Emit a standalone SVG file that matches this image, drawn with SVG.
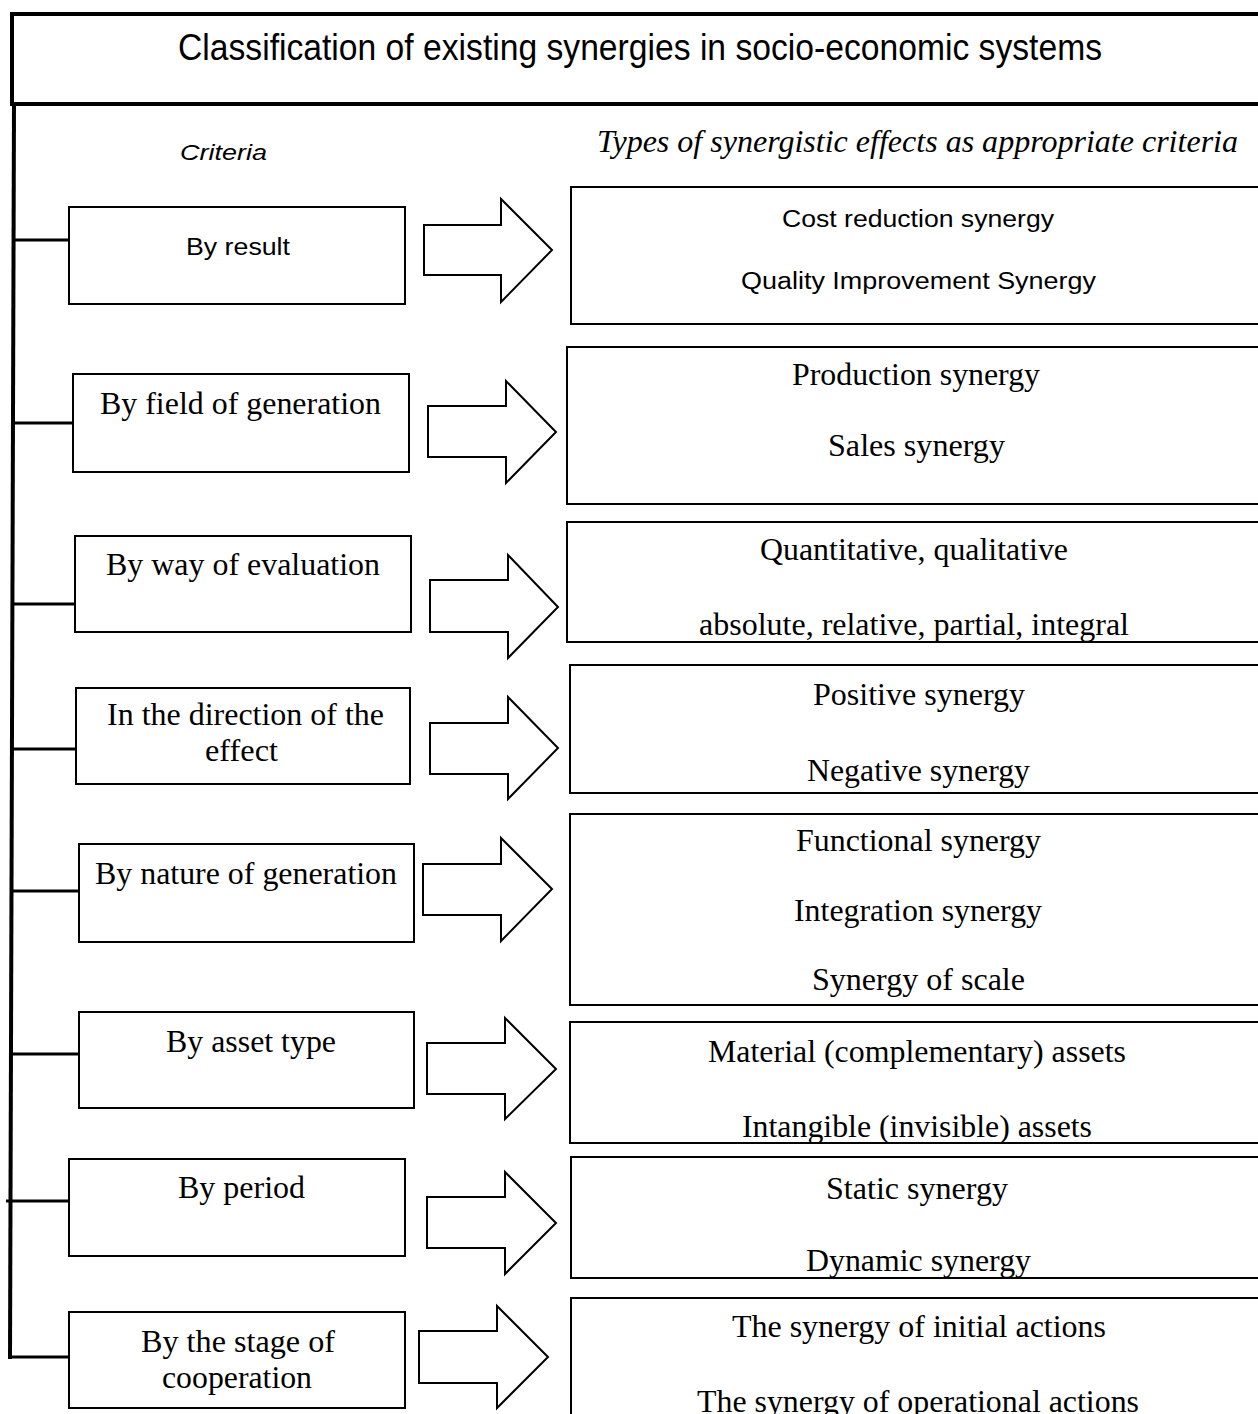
<svg xmlns="http://www.w3.org/2000/svg" width="1258" height="1414" viewBox="0 0 1258 1414">
<style>
.bg{fill:#fff}
.box{fill:#fff;stroke:#000;stroke-width:2}
.arrow{fill:#fff;stroke:#000;stroke-width:2;stroke-linejoin:miter}
.sans{font-family:"Liberation Sans",Arial,sans-serif;fill:#000}
.serif{font-family:"Liberation Serif","Times New Roman",serif;fill:#000;font-size:31px}
.mid{text-anchor:middle}
.spine{stroke:#000;stroke-width:4;fill:none}
.tick{stroke:#000;stroke-width:3;fill:none}
</style>
<rect class="bg" x="0" y="0" width="1258" height="1414"/>

<g id="title">
  <rect x="12" y="14" width="1260" height="90" fill="#fff" stroke="#000" stroke-width="4"/>
  <text class="sans mid" x="640" y="60" font-size="36" textLength="924" lengthAdjust="spacingAndGlyphs">Classification of existing synergies in socio-economic systems</text>
</g>

<g id="headers">
  <text class="sans mid" x="223.5" y="160" font-size="22" font-style="italic" textLength="87" lengthAdjust="spacingAndGlyphs">Criteria</text>
  <text class="serif mid" x="917.5" y="152" font-size="29" font-style="italic" textLength="641" lengthAdjust="spacingAndGlyphs">Types of synergistic effects as appropriate criteria</text>
</g>

<g id="connectors">
  <path class="spine" d="M14,104 L10,1359"/>
  <line class="tick" x1="13" y1="240" x2="69" y2="240"/>
  <line class="tick" x1="13" y1="423" x2="73" y2="423"/>
  <line class="tick" x1="12" y1="604" x2="75" y2="604"/>
  <line class="tick" x1="12" y1="749" x2="76" y2="749"/>
  <line class="tick" x1="11" y1="891" x2="79" y2="891"/>
  <line class="tick" x1="10" y1="1054" x2="79" y2="1054"/>
  <line class="tick" x1="6" y1="1201" x2="69" y2="1201"/>
  <line class="tick" x1="8" y1="1357" x2="69" y2="1357"/>
  <polygon class="arrow" points="424,225 501,225 501,199 552,250 501,302 501,275 424,275"/>
  <polygon class="arrow" points="428,406 506,406 506,381 556,432 506,483 506,457 428,457"/>
  <polygon class="arrow" points="430,580 508,580 508,555 558,607 508,658 508,632 430,632"/>
  <polygon class="arrow" points="430,723 508,723 508,697 558,748 508,799 508,774 430,774"/>
  <polygon class="arrow" points="423,864 501,864 501,838 552,889 501,941 501,915 423,915"/>
  <polygon class="arrow" points="427,1043 505,1043 505,1018 556,1069 505,1119 505,1094 427,1094"/>
  <polygon class="arrow" points="427,1197 505,1197 505,1172 556,1223 505,1274 505,1248 427,1248"/>
  <polygon class="arrow" points="419,1331 497,1331 497,1306 548,1357 497,1408 497,1383 419,1383"/>
</g>

<g id="c1">
  <rect class="box" x="69" y="207" width="336" height="97"/>
  <text class="sans mid" x="238" y="255" font-size="23" textLength="104" lengthAdjust="spacingAndGlyphs">By result</text>
</g>
<g id="t1">
  <rect class="box" x="571" y="187" width="700" height="137"/>
  <text class="sans mid" x="918" y="227" font-size="23" textLength="272" lengthAdjust="spacingAndGlyphs">Cost reduction synergy</text>
  <text class="sans mid" x="918.5" y="289" font-size="23" textLength="355" lengthAdjust="spacingAndGlyphs">Quality Improvement Synergy</text>
</g>

<g id="c2">
  <rect class="box" x="73" y="374" width="336" height="98"/>
  <text class="serif mid" x="240.5" y="414" textLength="281" lengthAdjust="spacingAndGlyphs">By field of generation</text>
</g>
<g id="t2">
  <rect class="box" x="567" y="347" width="700" height="157"/>
  <text class="serif mid" x="916" y="385" textLength="248" lengthAdjust="spacingAndGlyphs">Production synergy</text>
  <text class="serif mid" x="916.5" y="456" textLength="177" lengthAdjust="spacingAndGlyphs">Sales synergy</text>
</g>

<g id="c3">
  <rect class="box" x="75" y="536" width="336" height="96"/>
  <text class="serif mid" x="243" y="575" textLength="274" lengthAdjust="spacingAndGlyphs">By way of evaluation</text>
</g>
<g id="t3">
  <rect class="box" x="567" y="522" width="700" height="120"/>
  <text class="serif mid" x="914" y="560" textLength="308" lengthAdjust="spacingAndGlyphs">Quantitative, qualitative</text>
  <text class="serif mid" x="914" y="635" textLength="430" lengthAdjust="spacingAndGlyphs">absolute, relative, partial, integral</text>
</g>

<g id="c4">
  <rect class="box" x="76" y="688" width="334" height="96"/>
  <text class="serif mid" x="245.5" y="725" textLength="277" lengthAdjust="spacingAndGlyphs">In the direction of the</text>
  <text class="serif mid" x="241.5" y="761" textLength="73" lengthAdjust="spacingAndGlyphs">effect</text>
</g>
<g id="t4">
  <rect class="box" x="570" y="665" width="700" height="128"/>
  <text class="serif mid" x="919" y="705" textLength="212" lengthAdjust="spacingAndGlyphs">Positive synergy</text>
  <text class="serif mid" x="918.5" y="781" textLength="223" lengthAdjust="spacingAndGlyphs">Negative synergy</text>
</g>

<g id="c5">
  <rect class="box" x="79" y="844" width="335" height="98"/>
  <text class="serif mid" x="246" y="884" textLength="302" lengthAdjust="spacingAndGlyphs">By nature of generation</text>
</g>
<g id="t5">
  <rect class="box" x="570" y="814" width="700" height="191"/>
  <text class="serif mid" x="918.5" y="851" textLength="245" lengthAdjust="spacingAndGlyphs">Functional synergy</text>
  <text class="serif mid" x="918" y="921" textLength="248" lengthAdjust="spacingAndGlyphs">Integration synergy</text>
  <text class="serif mid" x="918.5" y="990" textLength="213" lengthAdjust="spacingAndGlyphs">Synergy of scale</text>
</g>

<g id="c6">
  <rect class="box" x="79" y="1012" width="335" height="96"/>
  <text class="serif mid" x="251" y="1052" textLength="170" lengthAdjust="spacingAndGlyphs">By asset type</text>
</g>
<g id="t6">
  <rect class="box" x="570" y="1022" width="700" height="121"/>
  <text class="serif mid" x="917" y="1062" textLength="418" lengthAdjust="spacingAndGlyphs">Material (complementary) assets</text>
  <text class="serif mid" x="917" y="1137" textLength="350" lengthAdjust="spacingAndGlyphs">Intangible (invisible) assets</text>
</g>

<g id="c7">
  <rect class="box" x="69" y="1159" width="336" height="97"/>
  <text class="serif mid" x="241.5" y="1198" textLength="127" lengthAdjust="spacingAndGlyphs">By period</text>
</g>
<g id="t7">
  <rect class="box" x="571" y="1157" width="700" height="121"/>
  <text class="serif mid" x="917" y="1199" textLength="182" lengthAdjust="spacingAndGlyphs">Static synergy</text>
  <text class="serif mid" x="918.5" y="1271" textLength="225" lengthAdjust="spacingAndGlyphs">Dynamic synergy</text>
</g>

<g id="c8">
  <rect class="box" x="69" y="1312" width="336" height="96"/>
  <text class="serif mid" x="238" y="1352" textLength="194" lengthAdjust="spacingAndGlyphs">By the stage of</text>
  <text class="serif mid" x="237" y="1388" textLength="150" lengthAdjust="spacingAndGlyphs">cooperation</text>
</g>
<g id="t8">
  <rect class="box" x="571" y="1298" width="700" height="140"/>
  <text class="serif mid" x="919" y="1337" textLength="374" lengthAdjust="spacingAndGlyphs">The synergy of initial actions</text>
  <text class="serif mid" x="918" y="1412" textLength="442" lengthAdjust="spacingAndGlyphs">The synergy of operational actions</text>
</g>
</svg>
